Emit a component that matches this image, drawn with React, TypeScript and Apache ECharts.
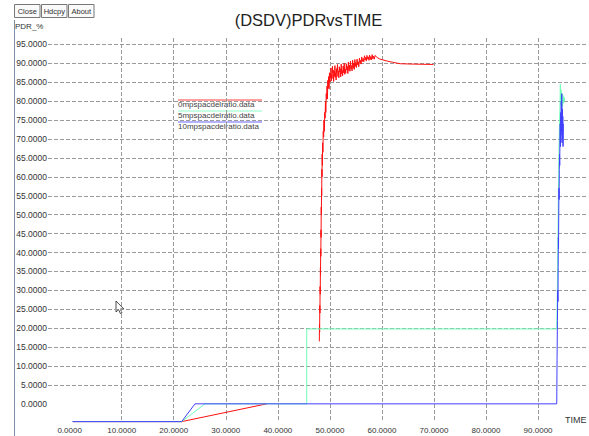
import React, { useEffect, useRef } from "react";
import * as echarts from "echarts";

const TITLE = "(DSDV)PDRvsTIME";
const Y_NAME = "PDR_%";
const X_NAME = "TIME";
const BUTTONS = ["Close", "Hdcpy", "About"];
const LEGEND_NAMES = ["0mpspacdelratio.data", "5mpspacdelratio.data", "10mpspacdelratio.data"];
const COLORS = ["#ff1010", "#70ffb8", "#4040ff"];

const xLabelValues = [0, 10, 20, 30, 40, 50, 60, 70, 80, 90];
const xGridValues = [10, 20, 30, 40, 50, 60, 70, 80, 90];
const yLabelValues = [0, 5, 10, 15, 20, 25, 30, 35, 40, 45, 50, 55, 60, 65, 70, 75, 80, 85, 90, 95];
const yGridValues = [5, 10, 15, 20, 25, 30, 35, 40, 45, 50, 55, 60, 65, 70, 75, 80, 85, 90, 95];

// 0 mps: ramp part and rise part
const redRamp = [[0.58, -4.7], [21.52, -4.7], [37.86, 0]];
const redRise = [
  [47.97, 16.5], [48.0, 21], [48.03, 19], [48.06, 26], [48.09, 24], [48.12, 31], [48.15, 29],
  [48.18, 36], [48.2, 34], [48.23, 41], [48.26, 39], [48.29, 46], [48.31, 44], [48.34, 52],
  [48.37, 50], [48.4, 57], [48.43, 55], [48.46, 62], [48.49, 60], [48.52, 66], [48.56, 63],
  [48.6, 69], [48.66, 66.5], [48.72, 72], [48.8, 70.5], [48.86, 75], [48.93, 72], [49.0, 77],
  [49.08, 75.5], [49.15, 80], [49.22, 77], [49.3, 82], [49.38, 80.5], [49.45, 84], [49.52, 80.6],
  [49.6, 85.5], [49.68, 83.6], [49.76, 86.5], [49.84, 83.2], [49.92, 87.5], [50.0, 85],
  [50.08, 87.5], [50.15, 86.2], [50.22, 88.8], [50.3, 85.4], [50.36, 87], [50.42, 86],
  [50.5, 89.2], [50.58, 87.4], [50.64, 88.2], [50.72, 85.2], [50.8, 87.9], [50.9, 86.6],
  [50.97, 89.4], [51.05, 86.3], [51.12, 87.5], [51.2, 85.6], [51.3, 88.6], [51.38, 87.6],
  [51.46, 89.7], [51.55, 86.5], [51.65, 88], [51.72, 86.2], [51.82, 89.1], [51.9, 87.8],
  [52.0, 88.6], [52.08, 86.4], [52.18, 89.8], [52.28, 87.2], [52.36, 88.1], [52.45, 86.7],
  [52.55, 89.3], [52.66, 87.5], [52.75, 90.1], [52.85, 87.1], [52.95, 88.5], [53.05, 87.4],
  [53.15, 89.9], [53.25, 88.3], [53.35, 89.2], [53.45, 87.3], [53.55, 90.3], [53.66, 88.1],
  [53.76, 89.5], [53.85, 87.9], [53.95, 90.6], [54.05, 88.6], [54.16, 89.4], [54.26, 88],
  [54.37, 90.8], [54.48, 88.7], [54.58, 90.1], [54.68, 88.4], [54.8, 91], [54.9, 89.2],
  [55.0, 90.2], [55.1, 88.9], [55.22, 91.1], [55.33, 89.6], [55.45, 90.4], [55.55, 89.1],
  [55.68, 91.4], [55.8, 90], [55.9, 90.8], [56.0, 89.8], [56.12, 91.7], [56.25, 90.5],
  [56.4, 91.3], [56.52, 90.4], [56.65, 92], [56.78, 90.9], [56.9, 91.6], [57.0, 90.6],
  [57.12, 92.1], [57.25, 91.1], [57.38, 91.7], [57.5, 90.8], [57.62, 92.2], [57.75, 91],
  [57.88, 91.8], [58.0, 90.9], [58.12, 92.3], [58.25, 91.2], [58.4, 91.9], [58.52, 91.1],
  [58.7, 92.1], [59.0, 91.6], [59.5, 91.2], [60.2, 90.9], [61.0, 90.6], [62.0, 90.3],
  [63.5, 89.9], [66.0, 89.8], [69.9, 89.7],
];

// 5 mps
const greenData = [
  [0.58, -4.7], [21.52, -4.7], [26.0, 0], [45.55, 0], [45.55, 19.8], [93.59, 19.8],
  [93.7, 30], [93.78, 40], [93.85, 48], [93.9, 55], [93.97, 62], [94.03, 68], [94.1, 73],
  [94.2, 78], [94.28, 84.5], [94.35, 79], [94.42, 83], [94.5, 77], [94.6, 82], [94.7, 78.5],
  [94.8, 81.5], [94.9, 79.5], [95.0, 81], [95.1, 80],
];

// 10 mps
const blueData = [
  [0.58, -4.7], [21.52, -4.7], [24.08, 0], [93.59, 0],
  [93.65, 12], [93.72, 22], [93.78, 30], [93.82, 27], [93.86, 36], [93.9, 44], [93.93, 41],
  [93.97, 50], [94.01, 57], [94.04, 54], [94.08, 62], [94.12, 66], [94.16, 63], [94.2, 70],
  [94.25, 74], [94.3, 68], [94.35, 77], [94.4, 71], [94.45, 80], [94.5, 72], [94.55, 82],
  [94.6, 69], [94.65, 78], [94.7, 70], [94.75, 76], [94.8, 68], [94.85, 74],
];

const FONT = "'Liberation Sans', Arial, Helvetica, sans-serif";

export default function App() {
  const ref = useRef<HTMLDivElement>(null);

  useEffect(() => {
    if (!ref.current) return;
    const chart = echarts.init(ref.current, undefined, { renderer: "svg" });
    const fmt = (v: number) => Number(v).toFixed(4);
    const gridStyle = { color: "#9a9a9a", width: 1, type: [4, 2] as number[] };

    const lineSeries = (name: string, data: number[][], color: string, z: number) => ({
      name,
      type: "line",
      data,
      showSymbol: false,
      symbol: "none",
      lineStyle: { color, width: 1 },
      itemStyle: { color },
      z,
      clip: false,
      silent: true,
    });

    const buttonGraphics: any[] = [];
    const btnX = [14, 41, 68];
    BUTTONS.forEach((b, i) => {
      buttonGraphics.push({
        type: "rect",
        shape: { x: btnX[i] + 0.5, y: 4.5, width: 25.5, height: 13 },
        style: { fill: "#fafafa", stroke: "#777", lineWidth: 1 },
      });
      buttonGraphics.push({
        type: "text",
        x: btnX[i] + 13.25,
        y: 11,
        style: { text: b, fontSize: 7.5, fontFamily: FONT, fill: "#333", align: "center", verticalAlign: "middle" },
      });
    });

    const legendGraphics: any[] = [];
    const legendY = [104, 115, 126];
    LEGEND_NAMES.forEach((n, i) => {
      legendGraphics.push({
        type: "line",
        shape: { x1: 178, y1: legendY[i] - 4, x2: 262, y2: legendY[i] - 4 },
        style: { stroke: COLORS[i], lineWidth: 1, opacity: 0.8 },
      });
      legendGraphics.push({
        type: "text",
        x: 178,
        y: legendY[i] + 0.5,
        style: { text: n, fontSize: 8, fontFamily: FONT, fill: "#444", verticalAlign: "middle" },
      });
    });

    chart.setOption({
      animation: false,
      backgroundColor: "#ffffff",
      grid: { left: 48, right: 2, top: 38, bottom: 14, containLabel: false },
      xAxis: {
        type: "value",
        min: -4.16,
        max: 99.4,
        axisLine: { show: false },
        axisTick: { show: false, customValues: xGridValues },
        splitLine: { show: true, lineStyle: gridStyle },
        axisLabel: {
          customValues: xLabelValues,
          formatter: fmt,
          fontSize: 8,
          fontFamily: FONT,
          color: "#333",
          margin: 4,
        },
      },
      yAxis: {
        type: "value",
        min: -4.8,
        max: 96.7,
        axisLine: { show: false },
        axisTick: { show: false, customValues: yGridValues },
        splitLine: { show: true, lineStyle: gridStyle },
        axisLabel: {
          customValues: yLabelValues,
          formatter: fmt,
          fontSize: 8.5,
          fontFamily: FONT,
          color: "#333",
          margin: 1,
        },
      },
      series: [
        lineSeries(LEGEND_NAMES[0], redRamp, COLORS[0], 2),
        lineSeries(LEGEND_NAMES[0] + " ", redRise, COLORS[0], 2),
        lineSeries(LEGEND_NAMES[1], greenData, COLORS[1], 3),
        lineSeries(LEGEND_NAMES[2], blueData, COLORS[2], 4),
      ],
      graphic: [
        {
          type: "line",
          shape: { x1: 14.5, y1: 20, x2: 14.5, y2: 436 },
          style: { stroke: "#7f8fa8", lineWidth: 1 },
        },
        ...buttonGraphics,
        {
          type: "text",
          x: 308.5,
          y: 20,
          style: { text: TITLE, fontSize: 16.5, fontFamily: FONT, fill: "#222", align: "center", verticalAlign: "middle" },
        },
        {
          type: "text",
          x: 15,
          y: 26,
          style: { text: Y_NAME, fontSize: 8, fontFamily: FONT, fill: "#333", verticalAlign: "middle" },
        },
        {
          type: "text",
          x: 565,
          y: 420,
          style: { text: X_NAME, fontSize: 9, fontFamily: FONT, fill: "#333", verticalAlign: "middle" },
        },
        ...legendGraphics,
        {
          type: "polygon",
          shape: {
            points: [[116, 301], [116, 312], [118.6, 309.6], [120.4, 313.6], [122, 312.9], [120.3, 309], [123.8, 309]],
          },
          style: { fill: "#ffffff", stroke: "#222", lineWidth: 0.8 },
        },
      ],
    });

    return () => chart.dispose();
  }, []);

  return (
    <div
      ref={ref}
      style={{ position: "absolute", left: 0, top: 0, width: 589, height: 436, background: "#fff" }}
    />
  );
}
